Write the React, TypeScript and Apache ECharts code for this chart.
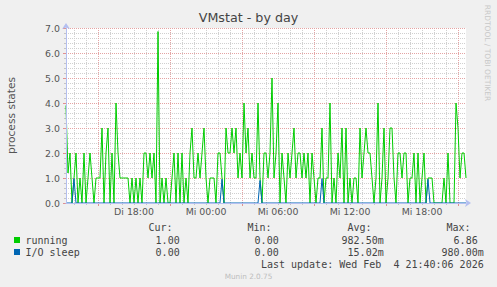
import React, { useEffect, useRef } from "react";
import * as echarts from "echarts";

const WIDTH = 497;
const HEIGHT = 287;

// time axis: minutes relative to "Mi 00:00"
const startMinute = -700; // Di 12:20
const endMinute = 1300; // Mi 21:40
const stepMinutes = 10;

const running: number[] = [
  3.9, 1.2, 2, 0, 1, 2, 0, 1, 0, 2,
  0, 1, 2, 1, 0, 1, 1, 1, 3, 0,
  2, 3, 0, 2, 0, 4, 2, 1, 1, 1,
  1, 1, 0, 1, 0, 1, 0, 1, 0, 2,
  2, 1, 2, 1, 2, 0, 6.86, 0, 1, 0,
  1, 0, 0, 1, 2, 0, 2, 0, 2, 0,
  1, 0, 2, 3, 1, 1, 2, 1, 2, 3,
  1, 0, 1, 1, 1, 0, 2, 2, 1, 0,
  3, 2, 2, 3, 2, 3, 1, 2, 1, 4,
  2, 3, 1, 2, 1, 1, 4, 1, 0, 2,
  2, 1, 2, 5, 1, 2, 4, 0, 2, 1,
  0, 2, 1, 2, 3, 1, 2, 2, 1, 2,
  1, 2, 0, 2, 1, 0, 1, 1, 3, 0,
  1, 1, 4, 0, 1, 0, 2, 1, 3, 0,
  3, 0, 1, 0, 1, 1, 0, 3, 1, 2,
  3, 2, 2, 1, 0, 1, 4, 0, 1, 3,
  0, 1, 3, 3, 1, 0, 2, 2, 1, 2,
  2, 0, 1, 1, 2, 0, 2, 0, 1, 2,
  0, 1, 1, 1, 0, 0, 0, 0, 0, 1,
  0, 2, 0, 0, 0, 4, 3, 1, 2, 2,
  1,
];

const ioSleep: number[] = [
  0, 0, 0, 0, 0.98, 0, 0, 0, 0, 0,
  0, 0, 0, 0, 0, 0, 0, 0, 0, 0,
  0, 0, 0, 0, 0, 0, 0, 0, 0, 0,
  0, 0, 0, 0, 0, 0, 0, 0, 0, 0,
  0, 0, 0, 0, 0, 0, 0, 0, 0, 0,
  0, 0, 0, 0, 0, 0, 0, 0, 0, 0,
  0, 0, 0, 0, 0, 0, 0, 0, 0, 0,
  0, 0, 0, 0, 0, 0, 0, 0, 0.95, 0,
  0, 0, 0, 0, 0, 0, 0, 0, 0, 0,
  0, 0, 0, 0, 0, 0, 0, 0.9, 0, 0,
  0, 0, 0, 0, 0, 0, 0, 0, 0, 0,
  0, 0, 0, 0, 0, 0, 0, 0, 0, 0,
  0, 0, 0, 0, 0, 0, 0, 0, 0.98, 0,
  0, 0, 0, 0, 0, 0, 0, 0, 0, 0,
  0, 0, 0, 0, 0, 0, 0, 0, 0, 0,
  0, 0, 0, 0, 0, 0, 0, 0, 0, 0,
  0, 0, 0, 0, 0, 0, 0, 0, 0, 0,
  0, 0, 0, 0, 0, 0, 0, 0, 0, 0,
  0, 0.95, 0, 0, 0, 0, 0, 0, 0, 0,
  0, 0, 0, 0, 0, 0, 0, 0, 0, 0,
  0,
];

const xLabelValues = [-360, 0, 360, 720, 1080];
const xLabelTexts = ["Di 18:00", "Mi 00:00", "Mi 06:00", "Mi 12:00", "Mi 18:00"];
const xMajorValues = [-540, -180, 180, 540, 900, 1260];

const seriesNames = ["running", "I/O sleep"];
const seriesColors = ["#00cc00", "#0066b3"];
const statHeaders = ["Cur:", "Min:", "Avg:", "Max:"];
const curValues = ["1.00", "0.00"];
const minValues = ["0.00", "0.00"];
const avgValues = ["982.50m", "15.02m"];
const maxValues = ["6.86", "980.00m"];
const lastUpdate = "Last update: Wed Feb  4 21:40:06 2026";
const titleText = "VMstat - by day";
const yAxisTitle = "process states";
const sideText = "RRDTOOL / TOBI OETIKER";
const versionText = "Munin 2.0.75";

const SANS = "DejaVu Sans";
const MONO = "DejaVu Sans Mono";
const FONT_COLOR = "#555555";
const MINOR_GRID = "#d0d0d0";
const MAJOR_GRID = "#e4a4a4";
const AXIS_COLOR = "#b4bff0";
const GRID_DASH = [1, 1];

function minorXValues(): number[] {
  const out: number[] = [];
  for (let m = -660; m <= endMinute; m += 60) out.push(m);
  return out;
}

function monoText(text: string, x: number, y: number, align: string) {
  return {
    type: "text",
    x,
    y,
    silent: true,
    style: {
      text,
      fontFamily: MONO,
      fontSize: 10,
      fill: "#444444",
      align,
      verticalAlign: "middle",
      textAlign: align,
      textVerticalAlign: "middle",
    },
  };
}

export default function App() {
  const ref = useRef<HTMLDivElement>(null);

  useEffect(() => {
    if (!ref.current) return;
    const chart = echarts.init(ref.current, undefined, { renderer: "svg" });

    const CHAR_W = 6.02;
    const colEnds = [185.7, 284.7, 383.7, 483.7];
    const headerX = [148.5, 247.5, 347.5, 446.5];
    const rowY = [240, 252];
    const cols = [curValues, minValues, avgValues, maxValues];

    const graphics: any[] = [];
    statHeaders.forEach((h, i) => graphics.push(monoText(h, headerX[i], 227.5, "left")));
    seriesNames.forEach((name, r) => {
      graphics.push({
        type: "rect",
        silent: true,
        shape: { x: 14, y: rowY[r] - 3, width: 6, height: 6 },
        style: { fill: seriesColors[r] },
      });
      graphics.push(monoText(name, 25.5, rowY[r], "left"));
      cols.forEach((col, c) => {
        const v = col[r];
        const hasUnit = /[a-zA-Z]$/.test(v);
        graphics.push(monoText(v, colEnds[c] - (hasUnit ? 0 : CHAR_W), rowY[r], "right"));
      });
    });
    graphics.push(monoText(lastUpdate, 483.7, 264, "right"));
    graphics.push({
      type: "text",
      x: 248.5,
      y: 276.5,
      silent: true,
      style: {
        text: versionText,
        fontFamily: SANS,
        fontSize: 7.3,
        fill: "#bdbdbd",
        align: "center",
        verticalAlign: "middle",
        textAlign: "center",
        textVerticalAlign: "middle",
      },
    });
    graphics.push({
      type: "text",
      x: 487.5,
      y: 53,
      rotation: -Math.PI / 2,
      silent: true,
      style: {
        text: sideText,
        fontFamily: SANS,
        fontSize: 7.5,
        fill: "#c8c8c8",
        align: "center",
        verticalAlign: "middle",
        textAlign: "center",
        textVerticalAlign: "middle",
      },
    });

    const makeSeriesData = (arr: number[]) =>
      arr.map((v, i) => [startMinute + i * stepMinutes, v]);

    const hiddenParts = {
      axisLine: { show: false, onZero: false },
      axisLabel: { show: false },
    };

    const option: any = {
      animation: false,
      backgroundColor: "#f0f0f0",
      title: {
        text: titleText,
        left: "center",
        top: 11,
        padding: 0,
        textStyle: {
          fontFamily: SANS,
          fontSize: 12.7,
          fontWeight: "normal",
          color: "#444444",
        },
      },
      grid: {
        left: 66,
        right: 31,
        top: 28,
        bottom: 84,
        show: true,
        backgroundColor: "#ffffff",
        borderWidth: 0,
        containLabel: false,
        outerBoundsMode: "none",
      },
      xAxis: [
        {
          type: "value",
          min: startMinute,
          max: endMinute,
          position: "bottom",
          ...hiddenParts,
          axisTick: {
            show: true,
            customValues: minorXValues(),
            length: 2,
            lineStyle: { color: "#c4c4c4" },
          },
          splitLine: { show: true, lineStyle: { color: MINOR_GRID, width: 1, type: GRID_DASH } },
          z: 0,
        },
        {
          type: "value",
          min: startMinute,
          max: endMinute,
          position: "bottom",
          axisLine: { show: false, onZero: false },
          axisTick: {
            show: true,
            customValues: xMajorValues,
            length: 3,
            lineStyle: { color: "#e09090" },
          },
          axisLabel: {
            show: true,
            customValues: xLabelValues,
            formatter: (v: number) => {
              const i = xLabelValues.indexOf(v);
              return i >= 0 ? xLabelTexts[i] : "";
            },
            margin: 4,
            color: FONT_COLOR,
            fontFamily: SANS,
            fontSize: 9.4,
          },
          splitLine: { show: true, lineStyle: { color: MAJOR_GRID, width: 1, type: GRID_DASH } },
          z: 1,
        },
        {
          type: "value",
          min: startMinute,
          max: endMinute,
          position: "bottom",
          axisLine: {
            show: true,
            onZero: false,
            lineStyle: { color: AXIS_COLOR, width: 1 },
            symbol: ["none", "arrow"],
            symbolSize: [6, 6],
            symbolOffset: [0, 5],
          },
          axisTick: { show: false },
          axisLabel: { show: false },
          splitLine: { show: false },
          z: 10,
        },
      ],
      yAxis: [
        {
          type: "value",
          min: 0,
          max: 7,
          interval: 0.2,
          position: "left",
          ...hiddenParts,
          axisTick: { show: true, length: 2, lineStyle: { color: "#c4c4c4" } },
          splitLine: { show: true, lineStyle: { color: MINOR_GRID, width: 1, type: GRID_DASH } },
          z: 0,
        },
        {
          type: "value",
          min: 0,
          max: 7,
          interval: 1,
          position: "left",
          axisLine: { show: false, onZero: false },
          axisTick: { show: true, length: 3, lineStyle: { color: "#e09090" } },
          axisLabel: {
            show: true,
            margin: 6,
            formatter: (v: number) => v.toFixed(1),
            color: FONT_COLOR,
            fontFamily: SANS,
            fontSize: 9.4,
          },
          splitLine: { show: true, lineStyle: { color: MAJOR_GRID, width: 1, type: GRID_DASH } },
          name: yAxisTitle,
          nameLocation: "middle",
          nameGap: 49,
          nameRotate: 90,
          nameTextStyle: { color: FONT_COLOR, fontFamily: SANS, fontSize: 10.7 },
          z: 1,
        },
        {
          type: "value",
          min: 0,
          max: 7,
          interval: 1,
          position: "left",
          axisLine: {
            show: true,
            onZero: false,
            lineStyle: { color: AXIS_COLOR, width: 1 },
            symbol: ["none", "arrow"],
            symbolSize: [6, 6],
            symbolOffset: [0, 5],
          },
          axisTick: { show: false },
          axisLabel: { show: false },
          splitLine: { show: false },
          z: 10,
        },
      ],
      series: [
        {
          name: seriesNames[0],
          type: "line",
          xAxisIndex: 1,
          yAxisIndex: 1,
          data: makeSeriesData(running),
          showSymbol: false,
          symbol: "none",
          lineStyle: { color: seriesColors[0], width: 1 },
          itemStyle: { color: seriesColors[0] },
          z: 2,
        },
        {
          name: seriesNames[1],
          type: "line",
          xAxisIndex: 1,
          yAxisIndex: 1,
          data: makeSeriesData(ioSleep),
          showSymbol: false,
          symbol: "none",
          lineStyle: { color: seriesColors[1], width: 1 },
          itemStyle: { color: seriesColors[1] },
          z: 3,
        },
      ],
      graphic: graphics,
    };

    chart.setOption(option);
    return () => chart.dispose();
  }, []);

  return (
    <div
      ref={ref}
      style={{ position: "fixed", left: 0, top: 0, width: WIDTH, height: HEIGHT }}
    />
  );
}
